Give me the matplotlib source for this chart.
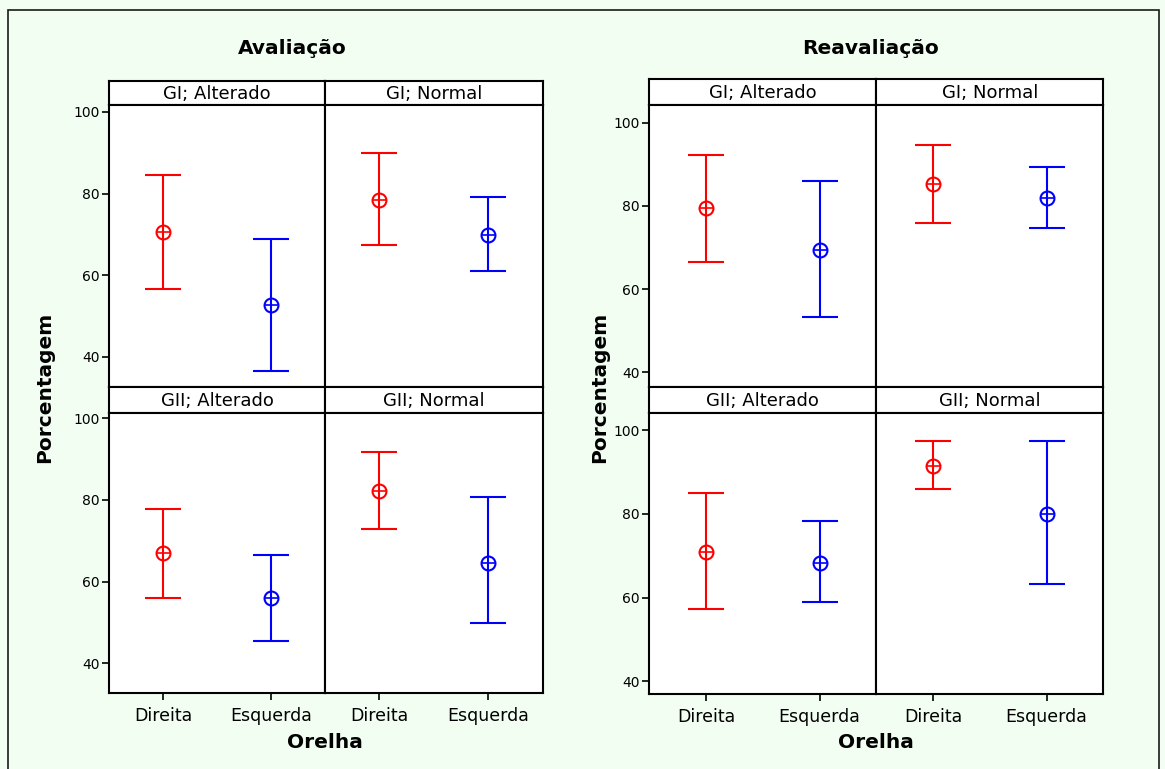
import matplotlib
matplotlib.use("Agg")
import matplotlib.pyplot as plt
from matplotlib.patches import Rectangle

# figure size in pixels
W, H = 1165, 769

ears = ["Direita", "Esquerda"]
groups = ["GI; Alterado", "GI; Normal", "GII; Alterado", "GII; Normal"]
ear_colors = ["#FF0000", "#0000FF"]

# Avaliação: mean and interval ends, per group, [Direita, Esquerda]
aval_mean = [[70.6, 52.7], [78.4, 69.9], [67.0, 56.0], [82.2, 64.6]]
aval_low = [[56.6, 36.6], [67.4, 61.0], [56.0, 45.5], [72.9, 49.9]]
aval_high = [[84.5, 68.9], [89.9, 79.1], [77.8, 66.5], [91.8, 80.8]]

# Reavaliação
reav_mean = [[79.4, 69.3], [85.2, 81.9], [71.0, 68.3], [91.4, 79.9]]
reav_low = [[66.4, 53.2], [75.8, 74.8], [57.3, 59.0], [85.9, 63.3]]
reav_high = [[92.2, 85.9], [94.6, 89.3], [84.9, 78.2], [97.4, 97.4]]

yticks = [40, 60, 80, 100]

BG = "#F2FEF2"
LW = 1.5


def box(x0, y0, x1, y1):
    # pixel box (top-left origin) -> figure fraction rect
    return [x0 / W, 1 - y1 / H, (x1 - x0) / W, (y1 - y0) / H]


def draw_panel(fig, title, xs, rows, ylims, means, lows, highs, cx, title_x, ylab_x):
    for r in range(2):
        for c in range(2):
            k = r * 2 + c
            st = fig.add_axes(box(xs[c], rows[r][0], xs[c + 1], rows[r][1]))
            st.set_facecolor("white")
            st.set_xticks([])
            st.set_yticks([])
            for s in st.spines.values():
                s.set_linewidth(LW)
            st.text(0.5, 0.45, groups[k], ha="center", va="center",
                    fontsize=13, transform=st.transAxes)

            ax = fig.add_axes(box(xs[c], rows[r][1], xs[c + 1], rows[r][2]))
            ax.set_facecolor("white")
            for s in ax.spines.values():
                s.set_linewidth(LW)
            for i in range(2):
                m = means[k][i]
                err = [[m - lows[k][i]], [highs[k][i] - m]]
                ax.errorbar([i + 1], [m], yerr=err, fmt="none",
                            ecolor=ear_colors[i], elinewidth=LW,
                            capsize=13, capthick=LW)
                ax.plot([i + 1], [m], "o", mfc="none", mec=ear_colors[i],
                        ms=10, mew=LW)
                ax.plot([i + 1], [m], "+", color=ear_colors[i],
                        ms=10, mew=1.2)
            ax.set_xlim(0.5, 2.5)
            ax.set_ylim(*ylims[r])
            ax.set_xticks([1, 2])
            ax.set_xticklabels(ears)
            ax.set_yticks(yticks)
            ax.tick_params(axis="y", direction="out", length=5, width=1.2,
                           labelsize=10, pad=2)
            ax.tick_params(axis="x", direction="out", length=5, width=1.2,
                           labelsize=12.5, pad=5)
            if c == 1:
                ax.tick_params(axis="y", left=False, labelleft=False)
            if r == 0:
                ax.tick_params(axis="x", bottom=False, labelbottom=False)

    fig.text(title_x / W, 1 - 49 / H, title, ha="center", va="center",
             fontsize=14.5, fontweight="bold")
    fig.text(ylab_x / W, 1 - 387 / H, "Porcentagem", rotation=90,
             ha="center", va="center", fontsize=14.5, fontweight="bold")
    fig.text(cx / W, 1 - 743 / H, "Orelha", ha="center", va="center",
             fontsize=14.5, fontweight="bold")


fig = plt.figure(figsize=(W / 100, H / 100), dpi=100, facecolor=BG)

draw_panel(fig, "Avaliação", [109.3, 325, 542.7],
           [(81, 104.5, 386.7), (386.7, 413.3, 692.7)],
           [(32.7, 101.8), (32.8, 101.2)],
           aval_mean, aval_low, aval_high, 325, 292, 45)

draw_panel(fig, "Reavaliação", [649.3, 876.3, 1103.3],
           [(79, 105, 386.7), (386.7, 413.3, 694)],
           [(36.5, 104.3), (36.9, 104.1)],
           reav_mean, reav_low, reav_high, 876, 870, 600)

# outer frame (bottom edge falls outside the image)
fig.add_artist(Rectangle((8 / W, -0.05), (1159 - 8) / W, 1 - 10 / H + 0.05,
                         fill=False, edgecolor="#1a1a1a", lw=1.2,
                         transform=fig.transFigure))

fig.savefig("out.png", dpi=100, facecolor=BG)
